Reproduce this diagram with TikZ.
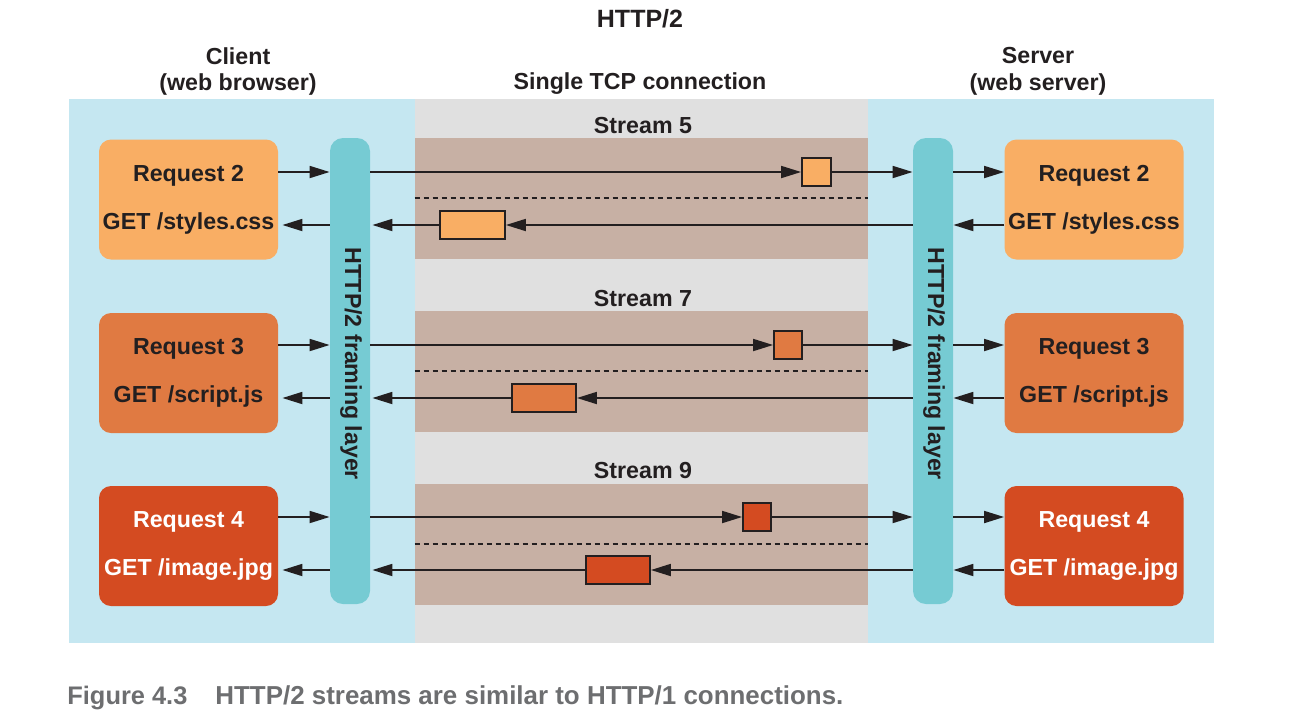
\documentclass[tikz,border=0pt]{standalone}
\usepackage{fontspec}
\setmainfont{Liberation Sans}
\usetikzlibrary{arrows.meta}
\definecolor{panelblue}{HTML}{C5E7F1}
\definecolor{midgray}{HTML}{E0E0E0}
\definecolor{bandcol}{HTML}{C7B0A4}
\definecolor{framecol}{HTML}{76CBD3}
\definecolor{orA}{HTML}{F9AE64}
\definecolor{orB}{HTML}{E07A42}
\definecolor{orC}{HTML}{D44B21}
\definecolor{ink}{HTML}{231F20}
\definecolor{capgray}{HTML}{6D6E70}
\begin{document}
\begin{tikzpicture}[x=0.5pt,y=-0.5pt,
  lbl/.style={font=\fontsize{11.6}{14}\selectfont\bfseries, text=ink, inner sep=0},
  req/.style={rounded corners=6pt, minimum width=89.5pt, minimum height=60pt, align=center,
              font=\fontsize{11.6}{24}\selectfont\bfseries, text=ink, inner sep=0},
  framebar/.style={fill=framecol, rounded corners=6.5pt, minimum width=20pt, minimum height=233pt, inner sep=0},
  bandbox/.style={fill=bandcol, minimum width=226.5pt, minimum height=60.5pt, inner sep=0},
  pkt/.style={draw=ink, line width=0.9pt, minimum height=14pt, inner sep=0},
  arr/.style={draw=ink, line width=0.9pt, -{Triangle[length=10pt,width=6pt]}},
  sep/.style={draw=ink, line width=0.6pt, dash pattern=on 2.5pt off 2pt}
]
\useasboundingbox (0,0) rectangle (1297,719);

% panels
\fill[panelblue] (69,99) rectangle (415,643);
\fill[midgray] (415,99) rectangle (868,643);
\fill[panelblue] (868,99) rectangle (1214,643);

% headings
\node[lbl, font=\fontsize{12.5}{14}\selectfont\bfseries] (title) at (640,19) {HTTP/2};
\node[lbl] (client1) at (238,56) {Client};
\node[lbl] (client2) at (238,84) {(web browser)};
\node[lbl] (tcp) at (640,84) {Single TCP connection};
\node[lbl] (server1) at (1038,56) {Server};
\node[lbl] (server2) at (1038,84) {(web server)};

% stream bands
\node[bandbox] (band5) at (641.5,198.5) {};
\node[bandbox] (band7) at (641.5,371) {};
\node[bandbox] (band9) at (641.5,544) {};
\node[lbl] (s5) at (643,126) {Stream 5};
\node[lbl] (s7) at (643,299) {Stream 7};
\node[lbl] (s9) at (643,471) {Stream 9};
\draw[sep] (band5.west |- 0,198) -- (band5.east |- 0,198);
\draw[sep] (band7.west |- 0,371) -- (band7.east |- 0,371);
\draw[sep] (band9.west |- 0,544) -- (band9.east |- 0,544);

% framing layers
\node[framebar] (fwL) at (350,371) {};
\node[framebar] (fwR) at (933,371) {};
\node[lbl, rotate=-90] (fwLtext) at (351,364) {HTTP/2 framing layer};
\node[lbl, rotate=-90] (fwRtext) at (934,364) {HTTP/2 framing layer};

% request boxes
\node[req, fill=orA] (rL2) at (188.5,199.5) {Request 2\\GET /styles.css};
\node[req, fill=orB] (rL3) at (188.5,373) {Request 3\\GET /script.js};
\node[req, fill=orC, text=white] (rL4) at (188.5,546) {Request 4\\GET /image.jpg};
\node[req, fill=orA] (rR2) at (1094,199.5) {Request 2\\GET /styles.css};
\node[req, fill=orB] (rR3) at (1094,373) {Request 3\\GET /script.js};
\node[req, fill=orC, text=white] (rR4) at (1094,546) {Request 4\\GET /image.jpg};

% row coordinates
\coordinate (f5) at (640,172);
\coordinate (b5) at (640,225);
\coordinate (f7) at (640,345);
\coordinate (b7) at (640,398);
\coordinate (f9) at (640,517);
\coordinate (b9) at (640,570);

% packets
\node[pkt, fill=orA, minimum width=14.5pt] (pf5) at (816.5,172) {};
\node[pkt, fill=orA, minimum width=32.5pt] (pb5) at (472.5,225) {};
\node[pkt, fill=orB, minimum width=14pt] (pf7) at (788,345) {};
\node[pkt, fill=orB, minimum width=32pt] (pb7) at (544,398) {};
\node[pkt, fill=orC, minimum width=14pt] (pf9) at (757,517) {};
\node[pkt, fill=orC, minimum width=32pt] (pb9) at (618,570) {};

% connectors
\draw[arr] (rL2.east |- f5) -- (fwL.west |- f5);
\draw[arr] (fwL.east |- f5) -- (pf5.west);
\draw[arr] (pf5.east) -- (fwR.west |- f5);
\draw[arr] (fwR.east |- f5) -- (rR2.west |- f5);
\draw[arr] (rR2.west |- b5) -- (fwR.east |- b5);
\draw[arr] (fwR.west |- b5) -- (pb5.east);
\draw[arr] (pb5.west) -- ([xshift=1pt]fwL.east |- b5);
\draw[arr] (fwL.west |- b5) -- ([xshift=2pt]rL2.east |- b5);

\draw[arr] (rL3.east |- f7) -- (fwL.west |- f7);
\draw[arr] (fwL.east |- f7) -- (pf7.west);
\draw[arr] (pf7.east) -- (fwR.west |- f7);
\draw[arr] (fwR.east |- f7) -- (rR3.west |- f7);
\draw[arr] (rR3.west |- b7) -- (fwR.east |- b7);
\draw[arr] (fwR.west |- b7) -- (pb7.east);
\draw[arr] (pb7.west) -- ([xshift=1pt]fwL.east |- b7);
\draw[arr] (fwL.west |- b7) -- ([xshift=2pt]rL3.east |- b7);

\draw[arr] (rL4.east |- f9) -- (fwL.west |- f9);
\draw[arr] (fwL.east |- f9) -- (pf9.west);
\draw[arr] (pf9.east) -- (fwR.west |- f9);
\draw[arr] (fwR.east |- f9) -- (rR4.west |- f9);
\draw[arr] (rR4.west |- b9) -- (fwR.east |- b9);
\draw[arr] (fwR.west |- b9) -- (pb9.east);
\draw[arr] (pb9.west) -- ([xshift=1pt]fwL.east |- b9);
\draw[arr] (fwL.west |- b9) -- ([xshift=2pt]rL4.east |- b9);

% caption
\node[anchor=base west, inner sep=0, text=capgray] (cap1) at (67,704) {\resizebox{60pt}{9.2pt}{\bfseries Figure 4.3}};
\node[anchor=base west, inner sep=0, text=capgray] (cap2) at (215,704) {\resizebox{314pt}{9.4pt}{\bfseries HTTP/2 streams are similar to HTTP/1 connections.}};
\end{tikzpicture}
\end{document}
